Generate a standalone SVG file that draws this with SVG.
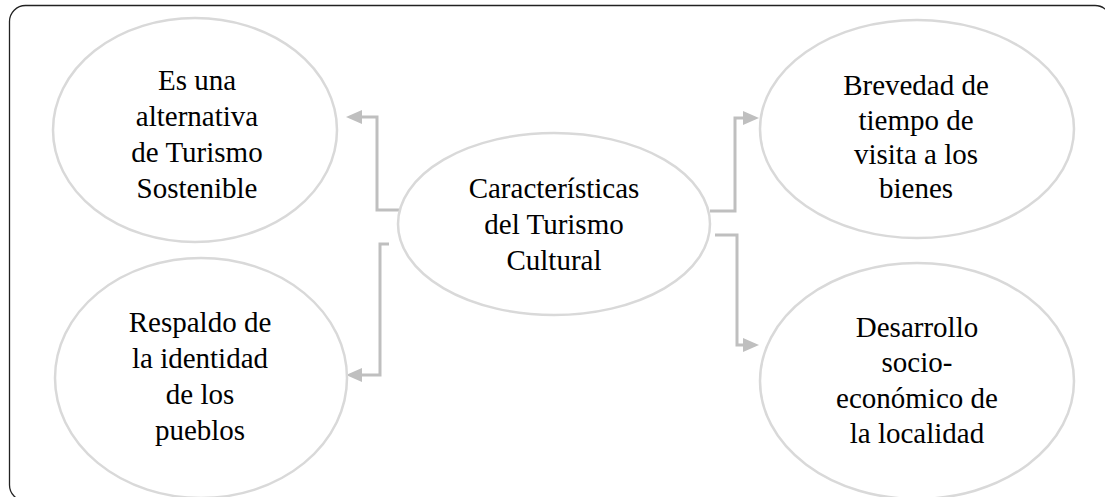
<svg xmlns="http://www.w3.org/2000/svg" width="1105" height="497" viewBox="0 0 1105 497">
<style>
.frame{fill:#ffffff;stroke:#222222;stroke-width:1.3}
.node ellipse{fill:#ffffff;stroke:#d9d9d9;stroke-width:2.5}
.node text{font-family:'Liberation Serif','Times New Roman',serif;font-size:29px;fill:#000000;text-anchor:middle}
.conn{fill:none;stroke:#bfbfbf;stroke-width:3}
.head{fill:#bfbfbf}
</style>
<rect class="frame" x="9.5" y="5.5" width="1101.5" height="495.5" rx="16" ry="16"/>
<g id="connectors">
<polyline class="conn" points="399,210 377,210 377,117 360,117"/>
<polygon class="head" points="346,117 362,110 362,124"/>
<polyline class="conn" points="389,244 380,244 380,375 360,375"/>
<polygon class="head" points="346,375 362,368 362,382"/>
<polyline class="conn" points="710,211 735,211 735,118 745,118"/>
<polygon class="head" points="759,118 743,111 743,125"/>
<polyline class="conn" points="715,235 737,235 737,345 745,345"/>
<polygon class="head" points="759,345 743,338 743,352"/>
</g>
<g id="node-center" class="node">
<ellipse cx="554" cy="224" rx="156" ry="91"/>
<text x="554" y="198">Características</text>
<text x="554" y="234">del Turismo</text>
<text x="554" y="270">Cultural</text>
</g>
<g id="node-sostenible" class="node">
<ellipse cx="195" cy="130" rx="142" ry="112"/>
<text x="197" y="90">Es una</text>
<text x="197" y="126">alternativa</text>
<text x="197" y="162">de Turismo</text>
<text x="197" y="198">Sostenible</text>
</g>
<g id="node-identidad" class="node">
<ellipse cx="201" cy="378" rx="146" ry="120"/>
<text x="200" y="332">Respaldo de</text>
<text x="200" y="368">la identidad</text>
<text x="200" y="404">de los</text>
<text x="200" y="440">pueblos</text>
</g>
<g id="node-brevedad" class="node">
<ellipse cx="917" cy="129" rx="157" ry="109"/>
<text x="916" y="95">Brevedad de</text>
<text x="916" y="130">tiempo de</text>
<text x="916" y="164">visita a los</text>
<text x="916" y="198">bienes</text>
</g>
<g id="node-desarrollo" class="node">
<ellipse cx="917" cy="381" rx="157" ry="118"/>
<text x="917" y="337">Desarrollo</text>
<text x="917" y="372">socio-</text>
<text x="917" y="408">económico de</text>
<text x="917" y="443">la localidad</text>
</g>
</svg>
